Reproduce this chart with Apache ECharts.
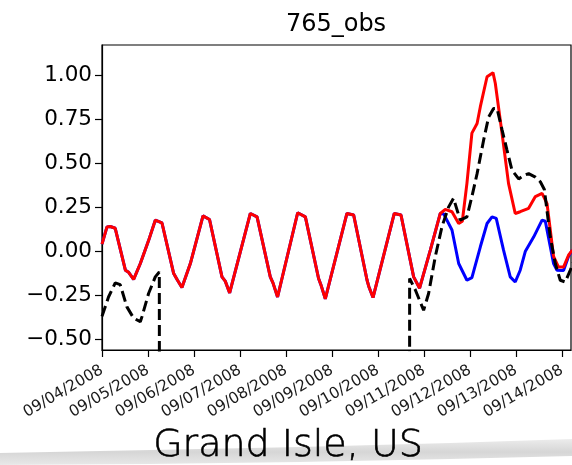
<!DOCTYPE html>
<html>
<head>
<meta charset="utf-8">
<script src="https://cdn.jsdelivr.net/npm/echarts@6/dist/echarts.min.js"></script>
<style>
html,body{margin:0;padding:0;background:#fff;}
#chart{width:572px;height:465px;}
</style>
</head>
<body>
<div id="chart"></div>
<script>
// x values are hours since 09/04/2008 00:00
const hourTicks = [0, 24, 48, 72, 96, 120, 144, 168, 192, 216, 240];
const dateLabels = ['09/04/2008','09/05/2008','09/06/2008','09/07/2008','09/08/2008','09/09/2008','09/10/2008','09/11/2008','09/12/2008','09/13/2008','09/14/2008'];
const yTicks = [-0.5, -0.25, 0, 0.25, 0.5, 0.75, 1.0];
const yTickLabels = ['\u22120.50','\u22120.25','0.00','0.25','0.50','0.75','1.00'];

// red (model with surge)
const redHours = [0,2.6,4.3,6.9,12.2,13.9,16.5,20.0,24.3,27.8,31.3,37.4,39.4,41.7,46.1,52.7,56.1,62.6,64.3,66.6,77.4,80.9,87.8,89.2,91.6,102.1,106.1,113.0,114.2,116.5,127.8,131.3,138.3,139.2,141.4,152.5,156.0,162.6,165.7,171.3,176.5,179.1,182.6,186.1,188.0,190.4,193.0,195.7,197.4,200.9,204.0,205.2,208.7,212.1,215.6,218.2,222.6,226.1,229.6,232.2,235.6,238.2,240.8,243.4,245.4];
const redValues = [0.04,0.138,0.14,0.13,-0.108,-0.12,-0.16,-0.07,0.06,0.176,0.16,-0.127,-0.165,-0.206,-0.07,0.20,0.18,-0.146,-0.17,-0.237,0.214,0.195,-0.146,-0.18,-0.26,0.218,0.195,-0.155,-0.19,-0.27,0.214,0.205,-0.165,-0.2,-0.263,0.214,0.205,-0.146,-0.21,0.006,0.214,0.237,0.224,0.157,0.17,0.385,0.67,0.725,0.82,0.99,1.013,0.953,0.67,0.385,0.214,0.224,0.243,0.31,0.328,0.27,-0.03,-0.09,-0.09,-0.023,0.006];

// blue (tide only) — identical to red until it diverges at hour 176.5
const blueSplitHour = 176.5;
const blueTailHours = [178.2,182.6,186.1,190.4,193.0,197.4,200.9,203.5,205.7,209.5,213.0,215.6,218.2,220.9,225.2,229.6,231.3,235.6,237.4,240.8,243.4,245.4];
const blueTailValues = [0.213,0.12,-0.07,-0.165,-0.15,0.025,0.157,0.195,0.186,0.006,-0.146,-0.175,-0.108,0.0,0.08,0.176,0.17,-0.07,-0.108,-0.11,-0.03,0.006];

// black dashed (observations); -9.99 marks missing data
const MISSING = -9.99;
const obsHours = [0,3.4,6.9,9.5,13.0,16.5,20.0,20.9,24.3,27.8,29.9,30.8,160.4,160.5,163.5,167.8,170.4,173.9,177.4,180.8,183.4,186.9,190.4,193.0,195.7,199.1,201.7,204.3,206.1,208.7,211.3,213.9,217.4,220.0,222.6,226.1,228.7,230.8,233.9,236.5,239.1,241.7,244.3,246.4];
const obsValues = [-0.37,-0.26,-0.18,-0.19,-0.316,-0.38,-0.40,-0.37,-0.24,-0.146,-0.118,MISSING,MISSING,-0.155,-0.22,-0.335,-0.24,-0.03,0.14,0.25,0.30,0.176,0.195,0.31,0.44,0.63,0.76,0.81,0.81,0.69,0.574,0.46,0.41,0.43,0.44,0.42,0.394,0.35,0.08,-0.07,-0.165,-0.175,-0.108,-0.05];

const pairs = (xs, ys) => xs.map((x, i) => [x, ys[i]]);
const redData = pairs(redHours, redValues);
const blueData = redData.filter(p => p[0] <= blueSplitHour).concat(pairs(blueTailHours, blueTailValues));
const obsData = pairs(obsHours, obsValues);

const chart = echarts.init(document.getElementById('chart'), null, {renderer: 'canvas'});
const font = 'DejaVu Sans';
chart.setOption({
  animation: false,
  backgroundColor: '#fff',
  grid: {left: 102, top: 45, width: 469, height: 305, show: true, borderColor: '#000', borderWidth: 1.2, backgroundColor: 'transparent'},
  xAxis: {
    type: 'value', min: 0, max: 244.7,
    axisLine: {show: true, onZero: false, lineStyle: {color: '#000', width: 1.2}},
    axisTick: {show: true, length: 7, inside: false, lineStyle: {color: '#000', width: 1.2}, customValues: hourTicks},
    axisLabel: {
      show: true, rotate: 30, margin: 19, fontSize: 15.5, fontFamily: font, color: '#1a1a1a',
      customValues: hourTicks,
      formatter: v => { const i = hourTicks.indexOf(v); return i >= 0 ? dateLabels[i] : ''; }
    },
    splitLine: {show: false}
  },
  yAxis: {
    type: 'value', min: -0.5607, max: 1.170,
    axisLine: {show: true, onZero: false, lineStyle: {color: '#000', width: 1.2}},
    axisTick: {show: true, length: 7, inside: false, lineStyle: {color: '#000', width: 1.2}, customValues: yTicks},
    axisLabel: {
      show: true, margin: 10, fontSize: 21.5, fontFamily: font, color: '#000',
      customValues: yTicks,
      formatter: v => { const i = yTicks.findIndex(t => Math.abs(t - v) < 1e-6); return i >= 0 ? yTickLabels[i] : ''; }
    },
    splitLine: {show: false}
  },
  series: [
    {type: 'line', data: blueData, symbol: 'none', clip: true, lineStyle: {color: '#0000ff', width: 3}, z: 2},
    {type: 'line', data: redData, symbol: 'none', clip: true, lineStyle: {color: '#ff0000', width: 3}, z: 3},
    {type: 'line', data: obsData, symbol: 'none', clip: true, lineStyle: {color: '#000000', width: 3, type: [11, 5]}, z: 4}
  ],
  graphic: [
    {type: 'polygon', z: -1, silent: true,
     shape: {points: [[0,453],[150,450],[300,447],[450,443],[572,439],[572,456],[450,459],[300,462],[150,464],[0,465]]},
     style: {fill: new echarts.graphic.LinearGradient(0, 0, 0, 1, [{offset: 0, color: '#ececec'}, {offset: 0.5, color: '#d6d6d6'}, {offset: 1, color: '#e8e8e8'}])}},
    {type: 'text', x: 336, y: 25, z: 10,
     style: {text: '765_obs', font: '24px "DejaVu Sans"', fill: '#000', textAlign: 'center', textVerticalAlign: 'middle'}},
    {type: 'text', x: 288, y: 446, z: 10,
     style: {text: 'Grand Isle, US', font: '200 38px "DejaVu Sans"', fill: '#000', stroke: '#000', lineWidth: 0.6, textAlign: 'center', textVerticalAlign: 'middle'}}
  ]
});
</script>
</body>
</html>
